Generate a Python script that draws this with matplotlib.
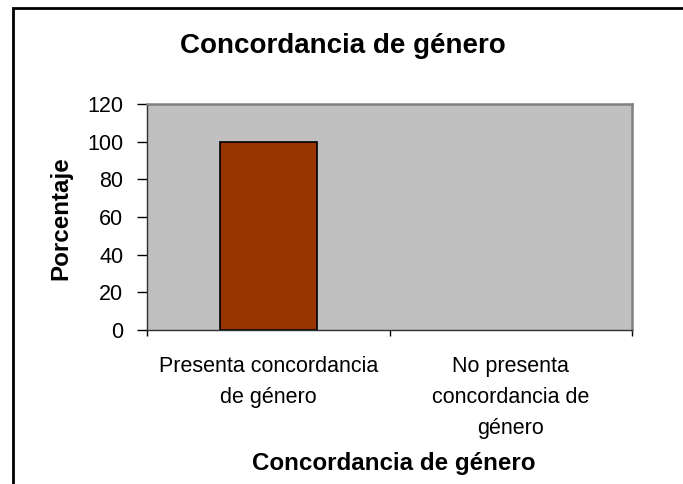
import matplotlib.pyplot as plt
from matplotlib.patches import Rectangle

plt.rcParams['font.family'] = ['Liberation Sans', 'DejaVu Sans']

# datos
categorias = ['Presenta concordancia\nde género', 'No presenta\nconcordancia de\ngénero']
porcentajes = [100, 0]
yticks = [0, 20, 40, 60, 80, 100, 120]

W, H = 683, 484
fig = plt.figure(figsize=(W / 100, H / 100), dpi=100)

# marco exterior del gráfico (recortado a la derecha y abajo)
fig.patches.append(Rectangle((13 / W, -0.1), 1.2, (H - 8) / H + 0.1,
                             transform=fig.transFigure, fill=False,
                             edgecolor='black', linewidth=2))

ax = fig.add_axes([147 / W, 1 - 330 / H, (632 - 147) / W, (330 - 104) / H])
ax.set_facecolor('#C0C0C0')

x = range(len(categorias))
# sin borde en barras de valor 0
bordes = [1.2 if v > 0 else 0 for v in porcentajes]
ax.bar(x, porcentajes, width=0.40, color='#993300', edgecolor='black', linewidth=bordes)

ax.set_xlim(-0.5, len(categorias) - 0.5)
ax.set_ylim(0, 120)
ax.set_yticks(yticks)
ax.set_yticklabels([str(v) for v in yticks], fontsize=15.5)

# ticks en los límites de categoría, etiquetas centradas
ax.set_xticks([-0.5, 0.5, 1.5])
ax.set_xticklabels([])
ax.set_xticks(list(x), minor=True)
ax.set_xticklabels(categorias, minor=True, fontsize=15.5, linespacing=1.6, va='top')
ax.tick_params(axis='x', which='minor', length=0, pad=19)
ax.tick_params(axis='x', which='major', length=4, width=1, color='black')
ax.tick_params(axis='y', length=7, width=1, color='black', pad=10)

for lado in ['top', 'right']:
    ax.spines[lado].set_color('#808080')
    ax.spines[lado].set_linewidth(1.8)
for lado in ['left', 'bottom']:
    ax.spines[lado].set_color('#303030')
    ax.spines[lado].set_linewidth(1)

fig.text(343 / W, 1 - 52.7 / H, 'Concordancia de género', ha='center', va='baseline',
         fontsize=20, fontweight='bold')
fig.text(394 / W, 1 - 470 / H, 'Concordancia de género', ha='center', va='baseline',
         fontsize=17.4, fontweight='bold')
fig.text(49 / W, 1 - 218 / H, 'Porcentaje', ha='left', va='center',
         rotation=90, fontsize=17.4, fontweight='bold')

fig.savefig('out.png', dpi=100)
